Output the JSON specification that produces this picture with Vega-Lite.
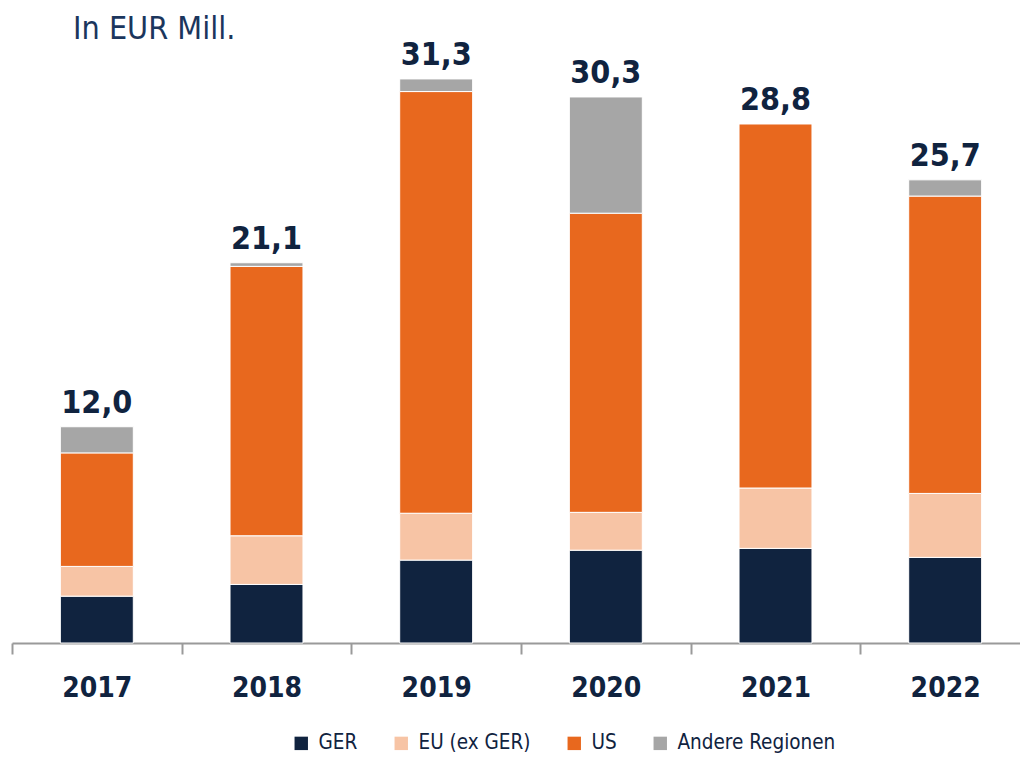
{
  "$schema": "https://vega.github.io/schema/vega-lite/v6.json",
  "autosize": "none",
  "width": 1018,
  "height": 643,
  "padding": {"left": 12, "top": 0, "right": 0, "bottom": 114},
  "background": "white",
  "title": {"text": "In EUR Mill.", "anchor": "start", "frame": "group", "dx": 61, "offset": 0, "dy": 71, "fontSize": 32, "font": "DejaVu Sans Condensed, Roboto, sans-serif", "fontWeight": "normal", "color": "#1b365d", "baseline": "alphabetic"},
  "config": {"view": {"stroke": null}, "font": "DejaVu Sans Condensed, Roboto, sans-serif"},
  "datasets": {
    "segments": [
      {"year": "2017", "region": "GER", "o": 1, "value": 2.6},
      {"year": "2017", "region": "EU (ex GER)", "o": 2, "value": 1.65},
      {"year": "2017", "region": "US", "o": 3, "value": 6.3},
      {"year": "2017", "region": "Andere Regionen", "o": 4, "value": 1.45},
      {"year": "2018", "region": "GER", "o": 1, "value": 3.25},
      {"year": "2018", "region": "EU (ex GER)", "o": 2, "value": 2.7},
      {"year": "2018", "region": "US", "o": 3, "value": 14.95},
      {"year": "2018", "region": "Andere Regionen", "o": 4, "value": 0.2},
      {"year": "2019", "region": "GER", "o": 1, "value": 4.6},
      {"year": "2019", "region": "EU (ex GER)", "o": 2, "value": 2.6},
      {"year": "2019", "region": "US", "o": 3, "value": 23.4},
      {"year": "2019", "region": "Andere Regionen", "o": 4, "value": 0.7},
      {"year": "2020", "region": "GER", "o": 1, "value": 5.15},
      {"year": "2020", "region": "EU (ex GER)", "o": 2, "value": 2.1},
      {"year": "2020", "region": "US", "o": 3, "value": 16.6},
      {"year": "2020", "region": "Andere Regionen", "o": 4, "value": 6.45},
      {"year": "2021", "region": "GER", "o": 1, "value": 5.25},
      {"year": "2021", "region": "EU (ex GER)", "o": 2, "value": 3.35},
      {"year": "2021", "region": "US", "o": 3, "value": 20.2},
      {"year": "2022", "region": "GER", "o": 1, "value": 4.75},
      {"year": "2022", "region": "EU (ex GER)", "o": 2, "value": 3.55},
      {"year": "2022", "region": "US", "o": 3, "value": 16.5},
      {"year": "2022", "region": "Andere Regionen", "o": 4, "value": 0.9}
    ],
    "totals": [
      {"year": "2017", "total": 12.0, "label": "12,0"},
      {"year": "2018", "total": 21.1, "label": "21,1"},
      {"year": "2019", "total": 31.3, "label": "31,3"},
      {"year": "2020", "total": 30.3, "label": "30,3"},
      {"year": "2021", "total": 28.8, "label": "28,8"},
      {"year": "2022", "total": 25.7, "label": "25,7"}
    ]
  },
  "encoding": {
    "x": {
      "field": "year", "type": "nominal",
      "scale": {"paddingInner": 0.57, "paddingOuter": 0.285},
      "axis": {
        "title": null, "labelAngle": 0, "tickOffset": -84.83, "labelOffset": 84.83,
        "labelFont": "DejaVu Sans Condensed, Roboto, sans-serif", "labelFontSize": 28, "labelFontWeight": "bold", "labelColor": "#10233f",
        "labelPadding": 20, "tickSize": 11, "tickColor": "#9a9a9a", "tickWidth": 2,
        "domainColor": "#9a9a9a", "domainWidth": 2, "grid": false
      }
    }
  },
  "layer": [
    {
      "data": {"name": "segments"},
      "mark": {"type": "bar", "stroke": "white", "strokeWidth": 1},
      "encoding": {
        "y": {"field": "value", "type": "quantitative", "stack": "zero", "scale": {"domain": [0, 35.68], "nice": false}, "axis": null},
        "order": {"field": "o", "type": "quantitative"},
        "color": {
          "field": "region", "type": "nominal",
          "scale": {"domain": ["GER", "EU (ex GER)", "US", "Andere Regionen"], "range": ["#10233f", "#f7c4a5", "#e8681e", "#a6a6a6"]},
          "legend": {
            "title": null, "orient": "none", "direction": "horizontal", "legendX": 279, "legendY": 733,
            "symbolType": "square", "symbolSize": 180, "symbolStrokeWidth": 0, "symbolOpacity": 1,
            "labelFont": "DejaVu Sans Condensed, Roboto, sans-serif", "labelFontSize": 20.5, "labelColor": "#10233f", "labelLimit": 400,
            "labelOffset": 7, "columnPadding": 33
          }
        }
      }
    },
    {
      "data": {"name": "totals"},
      "mark": {"type": "text", "baseline": "alphabetic", "dy": -14, "font": "DejaVu Sans Condensed, Roboto, sans-serif", "fontSize": 32, "fontWeight": "bold", "color": "#10233f"},
      "encoding": {
        "y": {"field": "total", "type": "quantitative"},
        "text": {"field": "label"}
      }
    }
  ]
}
